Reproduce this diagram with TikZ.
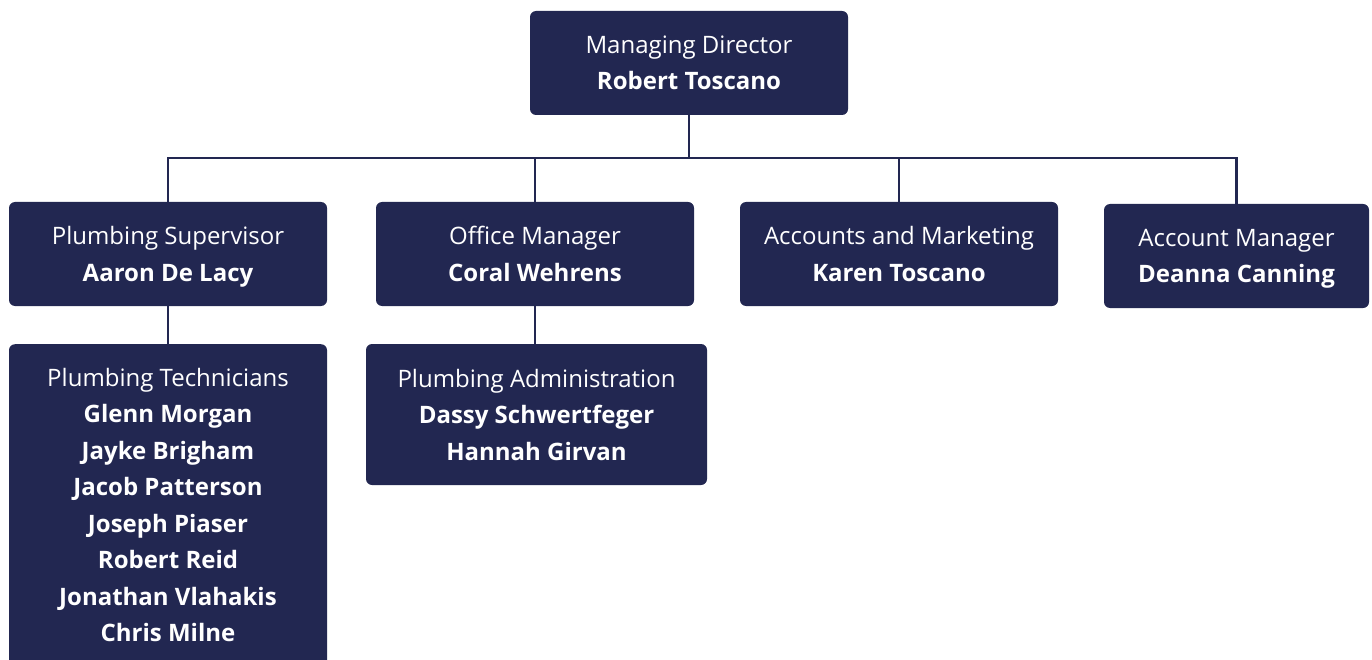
\documentclass[tikz,border=0pt]{standalone}
\usepackage{fontspec}
\setmainfont{Open Sans}[BoldFont=* Bold]
\definecolor{navy}{HTML}{222751}
\begin{document}
\begin{tikzpicture}[x=1pt,y=-1pt,
  box/.style={fill=navy, rounded corners=6pt, text=white, align=center,
    font=\fontsize{24}{36.5}\selectfont, inner xsep=0pt, inner ysep=0pt,
    minimum width=318pt, minimum height=104pt},
  link/.style={draw=navy, line width=2.5pt}]
\useasboundingbox (0,0) rectangle (1372,660);
\node[box] (md) at (689,63) {Managing Director\\\textbf{Robert Toscano}};
\node[box] (ps) at (168,254) {Plumbing Supervisor\\\smash{\textbf{Aaron De Lacy}}};
\node[box] (om) at (535,254) {Office Manager\\\textbf{Coral Wehrens}};
\node[box] (acm) at (899,254) {Accounts and Marketing\\\textbf{Karen Toscano}};
\node[box, minimum width=265pt] (am) at (1236.5,256) {Account Manager\\\smash{\textbf{Deanna Canning}}};
\node[box, anchor=north, minimum height=0pt, inner ysep=24pt] (pt) at (168,344)
  {Plumbing Technicians\\\textbf{Glenn Morgan}\\\textbf{Jayke Brigham}\\\textbf{Jacob Patterson}\\\textbf{Joseph Piaser}\\\textbf{Robert Reid}\\\textbf{Jonathan Vlahakis}\\\textbf{Chris Milne}\\\phantom{X}};
\node[box, minimum width=341pt, minimum height=141pt] (pa) at (536.5,414.5)
  {Plumbing Administration\\\textbf{Dassy Schwertfeger}\\\textbf{Hannah Girvan}};
\coordinate (bus) at (689,158);
\draw[link] (md.south) -- (md.south |- bus);
\draw[link] (ps.north) -- (ps.north |- bus) -- (bus) -| (am.north);
\draw[link] (om.north) -- (om.north |- bus);
\draw[link] (acm.north) -- (acm.north |- bus);
\draw[link] (ps.south) -- (pt.north);
\draw[link] (om.south) -- (om.south |- pa.north);
\end{tikzpicture}
\end{document}
